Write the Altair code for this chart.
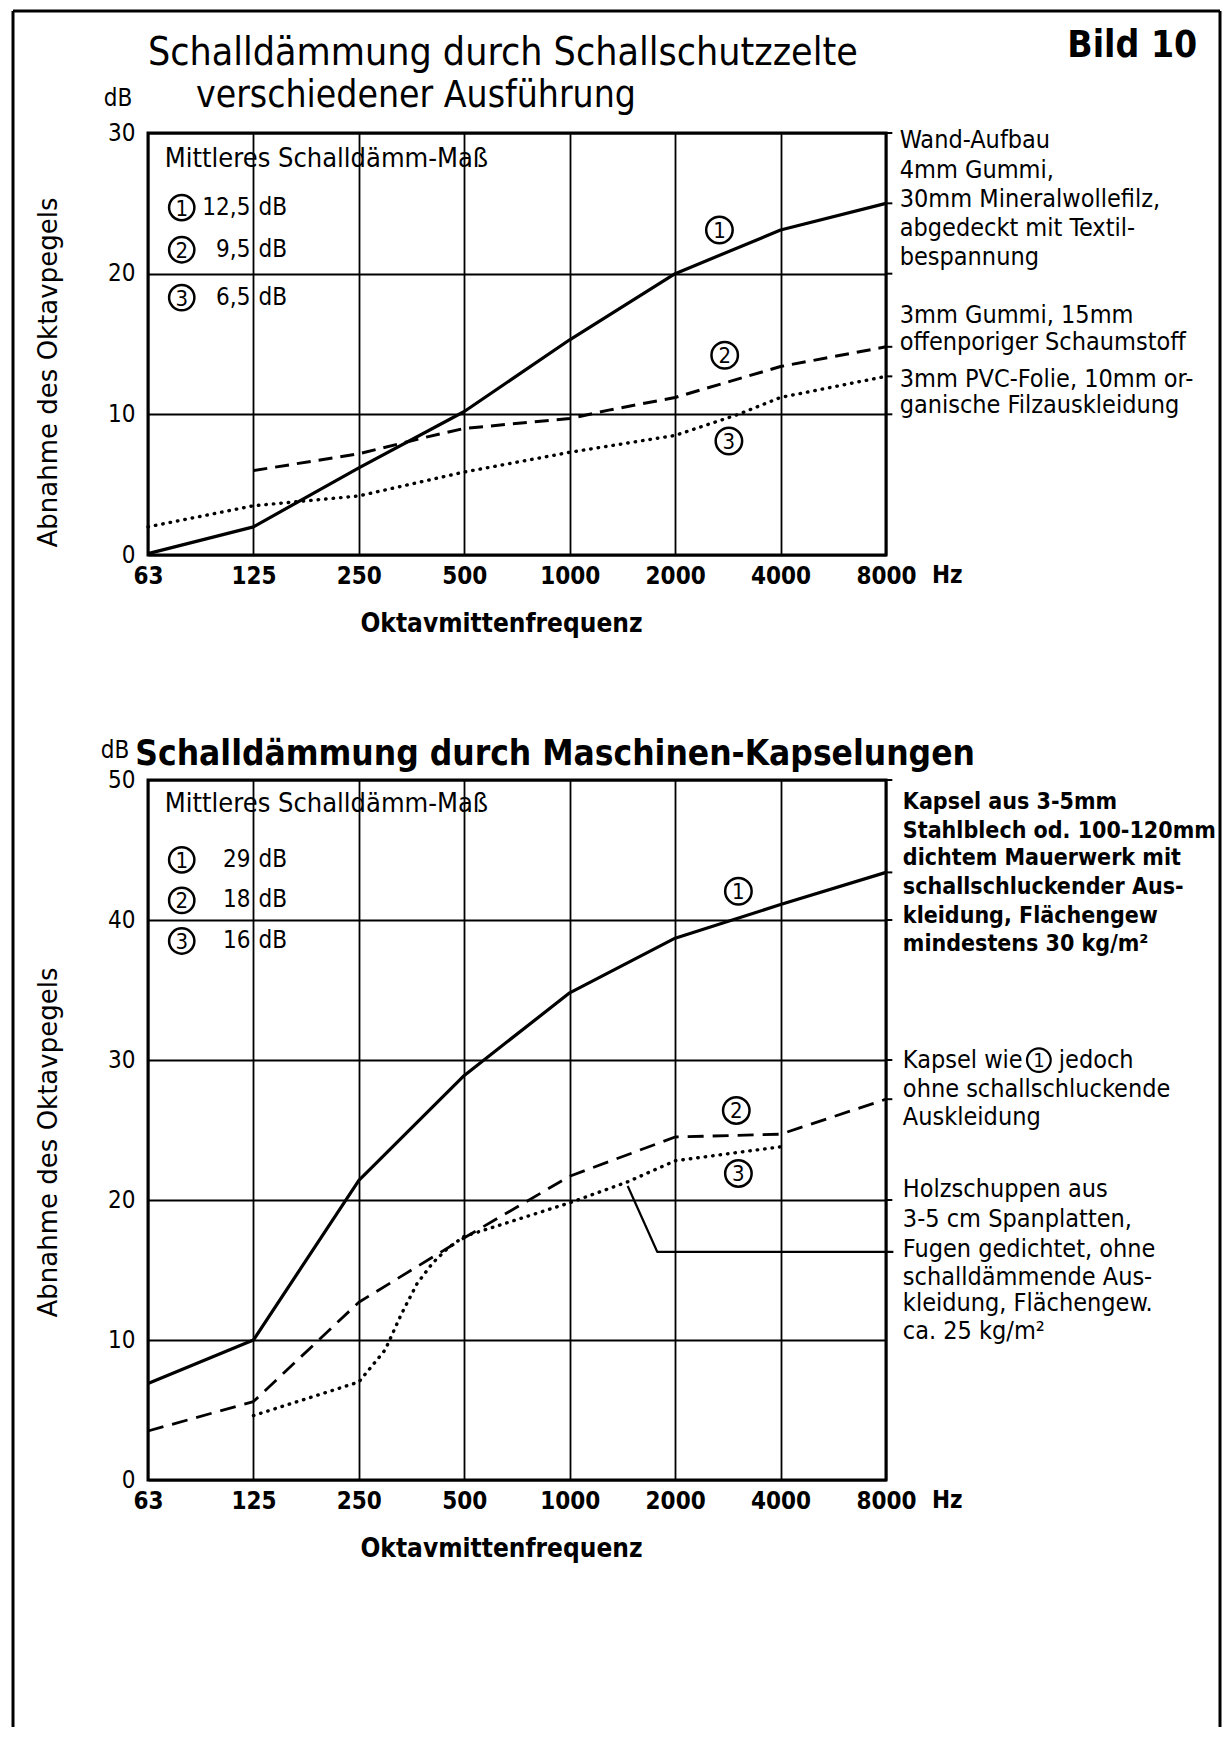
import json
import altair as alt
import pandas as pd

# ---------------- data ----------------
FREQ_LABELS = ["63", "125", "250", "500", "1000", "2000", "4000", "8000"]
OCTAVE_POS = [0, 1, 2, 3, 4, 5, 6, 7]          # 63 Hz ... 8000 Hz (octave index)

# upper chart: Schallschutzzelte
TOP_C1_X = [0, 1, 2, 3, 4, 5, 6, 7]
TOP_C1_Y = [0.1, 2.0, 6.2, 10.2, 15.3, 20.0, 23.1, 25.0]
TOP_C2_X = [1, 2, 2.65, 3, 4, 4.37, 5, 6, 7]
TOP_C2_Y = [6.0, 7.2, 8.4, 9.0, 9.7, 10.3, 11.2, 13.4, 14.8]
TOP_C3_X = [0, 1, 2, 3, 4, 5, 5.6, 6, 7]
TOP_C3_Y = [2.0, 3.5, 4.2, 5.9, 7.3, 8.5, 10.0, 11.2, 12.7]
TOP_MEAN = ["12,5", "9,5", "6,5"]

# lower chart: Maschinen-Kapselungen
BOT_C1_X = [0, 1, 2, 3, 4, 5, 6, 7]
BOT_C1_Y = [6.9, 10.0, 21.4, 28.9, 34.8, 38.7, 41.1, 43.4]
BOT_C2_X = [0, 1, 2, 3, 4, 5, 6, 7]
BOT_C2_Y = [3.5, 5.6, 12.7, 17.3, 21.7, 24.5, 24.7, 27.2]
BOT_C3_X = [1, 2, 2.25, 2.4, 2.55, 2.7, 2.85, 3, 4, 4.55, 5, 6]
BOT_C3_Y = [4.6, 7.0, 9.3, 11.8, 14.0, 15.5, 16.6, 17.4, 19.8, 21.3, 22.8, 23.8]
BOT_MEAN = ["29", "18", "16"]
LEADER_X = [4.55, 4.83, 7.07]
LEADER_Y = [21.0, 16.3, 16.3]

NUMS = ["1", "2", "3"]

TOP_NOTES = ["Wand-Aufbau", "4mm Gummi,", "30mm Mineralwollefilz,", "abgedeckt mit Textil-",
             "bespannung", "3mm Gummi, 15mm", "offenporiger Schaumstoff",
             "3mm PVC-Folie, 10mm or-", "ganische Filzauskleidung"]
TOP_NOTE_Y = [28.93, 26.8, 24.73, 22.67, 20.61, 16.49, 14.57, 11.94, 10.09]

BOT_NOTES_A = ["Kapsel aus 3-5mm", "Stahlblech od. 100-120mm", "dichtem Mauerwerk mit",
               "schallschluckender Aus-", "kleidung, Flächengew", "mindestens 30 kg/m²"]
BOT_NOTE_A_Y = [47.93, 45.87, 43.95, 41.88, 39.81, 37.82]
BOT_NOTES_B = ["ohne schallschluckende", "Auskleidung",
               "Holzschuppen aus", "3-5 cm Spanplatten,", "Fugen gedichtet, ohne",
               "schalldämmende Aus-", "kleidung, Flächengew.", "ca. 25 kg/m²"]
BOT_NOTE_B_Y = [27.35, 25.36, 20.23, 18.09, 15.95, 13.96, 12.04, 10.04]
BOT_NOTE_REF_Y = 29.42      # line "Kapsel wie (1) jedoch"

# ---------------- styling ----------------
FONT = "DejaVu Sans Condensed"
FONT_PLAIN = "DejaVu Sans"
W = 738
TOP_H = 422
BOT_H = 700


def xenc():
    expr = json.dumps(FREQ_LABELS) + "[datum.value]"
    return alt.X("x:Q", scale=alt.Scale(domain=[0, 7], nice=False, zero=False),
                 axis=alt.Axis(values=OCTAVE_POS, labelExpr=expr, title="Oktavmittenfrequenz",
                               labelFlush=False, labelOverlap=False, labelPadding=21,
                               labelBaseline="middle", labelFont=FONT, labelFontSize=24,
                               labelFontWeight="bold", titleFont=FONT, titleFontSize=26,
                               titleFontWeight="bold", titleX=353, titleY=76,
                               titleBaseline="alphabetic", titleAlign="center",
                               grid=True, ticks=False, domain=False))


def yenc(ymax, title_y):
    return alt.Y("y:Q", scale=alt.Scale(domain=[0, ymax], nice=False, zero=False),
                 axis=alt.Axis(values=list(range(0, ymax + 1, 10)), title="Abnahme des Oktavpegels",
                               labelFont=FONT, labelFontSize=24, labelPadding=13,
                               labelFlush=False, labelOverlap=False,
                               titleFont=FONT_PLAIN, titleFontSize=26, titleFontWeight="normal",
                               titleX=-100, titleY=title_y, titleBaseline="middle",
                               titleAlign="center", grid=True, ticks=False, domain=False))


def line(X, Y, xs, ys, dash=None, width=3.0, cap="butt"):
    df = pd.DataFrame({"x": xs, "y": ys, "o": list(range(len(xs)))})
    kw = dict(color="black", strokeWidth=width, strokeCap=cap, strokeJoin="round")
    if dash:
        kw["strokeDash"] = dash
    return alt.Chart(df).mark_line(**kw).encode(x=X, y=Y, order="o:Q")


def texts(X, Y, xs, ys, ts, size, weight="normal", align="left", baseline="alphabetic",
          font=FONT, dx=0, dy=0):
    df = pd.DataFrame({"x": xs, "y": ys, "t": ts})
    return alt.Chart(df).mark_text(font=font, fontSize=size, fontWeight=weight, align=align,
                                   baseline=baseline, dx=dx, dy=dy,
                                   color="black").encode(x=X, y=Y, text="t:N")


def circles(X, Y, xs, ys, nums, size=700, fsize=22, sw=2.5, dx=0, dy=0):
    df = pd.DataFrame({"x": xs, "y": ys, "t": nums})
    ring = alt.Chart(df).mark_point(shape="circle", size=size, filled=False, stroke="black",
                                    strokeWidth=sw, opacity=1, xOffset=dx,
                                    yOffset=dy).encode(x=X, y=Y)
    dig = alt.Chart(df).mark_text(font=FONT, fontSize=fsize, baseline="middle", align="center",
                                  dx=dx, dy=dy + 1, color="black").encode(x=X, y=Y, text="t:N")
    return [ring, dig]


def ticks(X, Y, ys):
    df = pd.DataFrame({"x": [7] * len(ys), "x2": [7.06] * len(ys), "y": ys})
    return alt.Chart(df).mark_rule(color="black", strokeWidth=2).encode(x=X, x2="x2:Q", y=Y)


# ---------------- upper panel ----------------
X = xenc()
Yt = yenc(30, 239)
one = pd.DataFrame({"k": [0]})
frame = [
    alt.Chart(one).mark_rule(color="black", strokeWidth=3).encode(
        x=alt.value(-135), y=alt.value(-122), y2=alt.value(1594)),
    alt.Chart(one).mark_rule(color="black", strokeWidth=3).encode(
        x=alt.value(-135), x2=alt.value(1072), y=alt.value(-122)),
    alt.Chart(one).mark_rule(color="black", strokeWidth=3).encode(
        x=alt.value(1072), y=alt.value(-122), y2=alt.value(1594)),
]

top_layers = [
    line(X, Yt, TOP_C1_X, TOP_C1_Y, width=3.2),
    line(X, Yt, TOP_C2_X, TOP_C2_Y, dash=[14, 8], width=3.0),
    line(X, Yt, TOP_C3_X, TOP_C3_Y, dash=[0.5, 7], width=3.4, cap="round"),
    ticks(X, Yt, [30, 25.0, 20, 14.8, 12.7, 10]),
    texts(X, Yt, [0], [34.83], ["Schalldämmung durch Schallschutzzelte"], 39),
    texts(X, Yt, [0.455], [31.84], ["verschiedener Ausführung"], 37),
    texts(X, Yt, [8.72], [35.4], ["Bild 10"], 37, weight="bold"),
    texts(X, Yt, [0], [31.9], ["dB"], 24, align="center", dx=-30),
    texts(X, Yt, [7], [-1.49], ["Hz"], 24, weight="bold", baseline="middle", dx=46),
    texts(X, Yt, [0.16], [27.6], ["Mittleres Schalldämm-Maß"], 27),
    texts(X, Yt, [1, 1, 1], [24.7, 21.7, 18.3], TOP_MEAN, 24, align="right",
          baseline="middle", dx=-3),
    texts(X, Yt, [1, 1, 1], [24.7, 21.7, 18.3], ["dB"] * 3, 24, baseline="middle", dx=5),
    *circles(X, Yt, [0.32] * 3, [24.7, 21.7, 18.3], NUMS, size=640),
    *circles(X, Yt, [5.42, 5.47, 5.51], [23.1, 14.2, 8.1], NUMS),
    texts(X, Yt, [7.13] * len(TOP_NOTES), TOP_NOTE_Y, TOP_NOTES, 25),
    *frame,
]
top = alt.layer(*top_layers).properties(width=W, height=TOP_H)

# ---------------- lower panel ----------------
Yb = yenc(50, 362)
bot_layers = [
    line(X, Yb, BOT_C1_X, BOT_C1_Y, width=3.2),
    line(X, Yb, BOT_C2_X, BOT_C2_Y, dash=[16, 9], width=2.8),
    line(X, Yb, BOT_C3_X, BOT_C3_Y, dash=[0.5, 7], width=3.4, cap="round"),
    line(X, Yb, LEADER_X, LEADER_Y, width=2.2),
    ticks(X, Yb, [50, 43.4, 40, 30, 27.2, 20]),
    texts(X, Yb, [-0.12], [51.1], ["Schalldämmung durch Maschinen-Kapselungen"], 35,
          weight="bold"),
    texts(X, Yb, [0], [51.6], ["dB"], 24, align="center", dx=-33),
    texts(X, Yb, [7], [-1.5], ["Hz"], 24, weight="bold", baseline="middle", dx=46),
    texts(X, Yb, [0.16], [47.7], ["Mittleres Schalldämm-Maß"], 27),
    texts(X, Yb, [1, 1, 1], [44.3, 41.4, 38.5], BOT_MEAN, 24, align="right",
          baseline="middle", dx=-3),
    texts(X, Yb, [1, 1, 1], [44.3, 41.4, 38.5], ["dB"] * 3, 24, baseline="middle", dx=5),
    *circles(X, Yb, [0.32] * 3, [44.3, 41.4, 38.5], NUMS, size=640),
    *circles(X, Yb, [5.6, 5.58, 5.6], [42.05, 26.4, 21.9], NUMS),
    texts(X, Yb, [7.16] * len(BOT_NOTES_A), BOT_NOTE_A_Y, BOT_NOTES_A, 23, weight="bold"),
    texts(X, Yb, [7.16], [BOT_NOTE_REF_Y], ["Kapsel wie"], 25),
    *circles(X, Yb, [7.16], [BOT_NOTE_REF_Y], ["1"], size=560, fsize=20, sw=2.2,
             dx=136, dy=-8),
    texts(X, Yb, [7.16], [BOT_NOTE_REF_Y], ["jedoch"], 25, dx=156),
    texts(X, Yb, [7.16] * len(BOT_NOTES_B), BOT_NOTE_B_Y, BOT_NOTES_B, 25),
]
bottom = alt.layer(*bot_layers).properties(width=W, height=BOT_H)

chart = alt.vconcat(top, bottom, spacing=225, bounds="flush").properties(
    padding={"left": 2, "top": 0, "right": 0, "bottom": 0},
    background="white",
).configure_view(
    stroke="black", strokeWidth=3
).configure_axis(
    gridColor="black", gridOpacity=1, gridWidth=1.8, labelColor="black", titleColor="black"
)

chart.save("out.html", embed_options={"renderer": "svg", "actions": False})
